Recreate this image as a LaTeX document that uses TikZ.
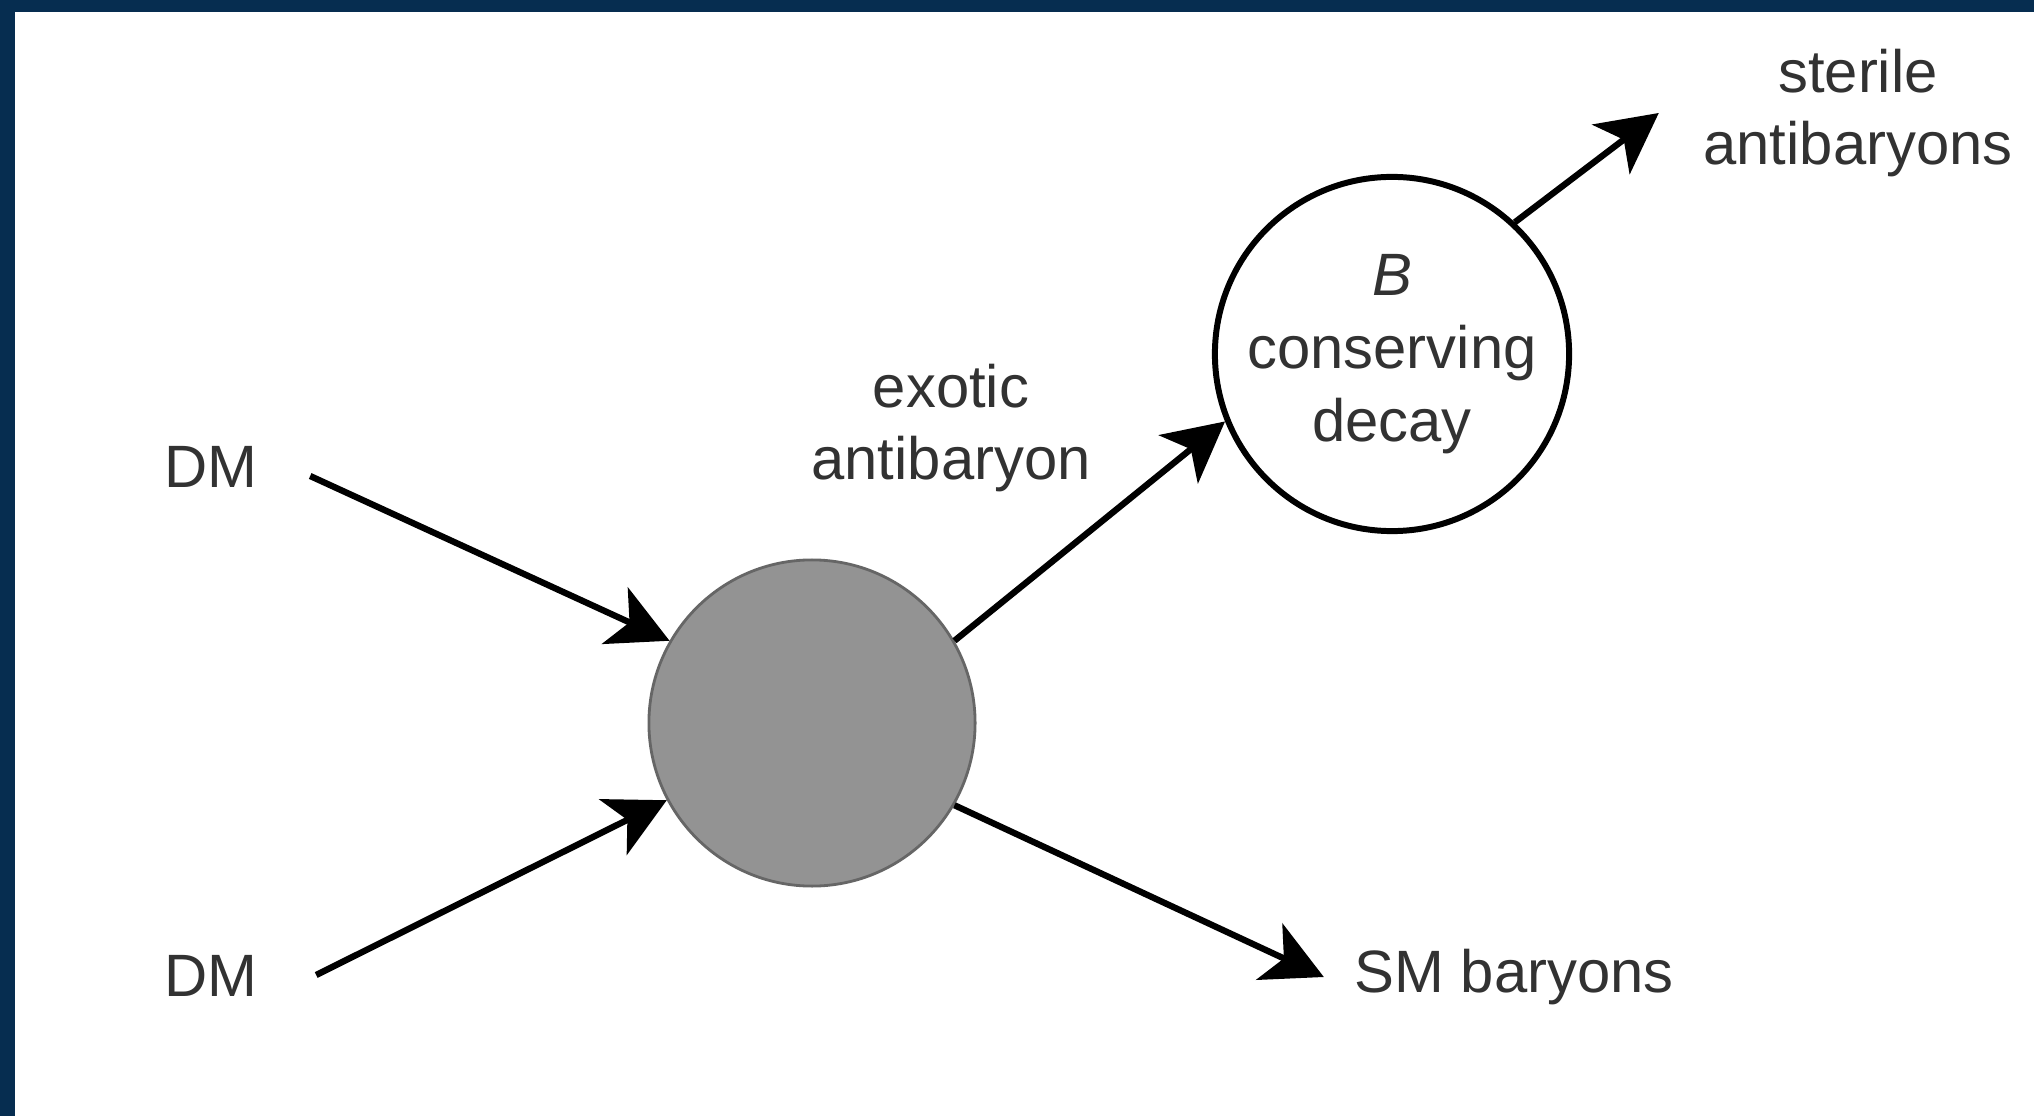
\documentclass[tikz,border=0pt]{standalone}
\usepackage{fontspec}
\setmainfont{Liberation Sans}
\usepackage{xcolor}
\usetikzlibrary{arrows.meta,positioning}
\definecolor{navy}{RGB}{6,45,80}
\definecolor{blobgray}{RGB}{147,147,147}
\definecolor{txtgray}{RGB}{50,50,50}

\begin{document}
\begin{tikzpicture}[
    x=0.01cm, y=-0.01cm,
    lbl/.style={text=txtgray, align=center, inner sep=0pt,
                font=\fontsize{17pt}{20.7pt}\selectfont},
    blob/.style={circle, fill=blobgray, draw=black!60, line width=0.8pt,
                 minimum size=3.26cm},
    vertex/.style={lbl, circle, draw=black, line width=1.7pt,
                   minimum size=3.54cm},
    arrow/.style={-{Stealth[length=6mm, width=6.2mm, inset=1.6mm]}, line width=1.8pt}
]
% frame
\fill[navy] (0,0) rectangle (2034,1116);
\fill[white] (15,12) rectangle (2034,1116);
\useasboundingbox (0,0) rectangle (2034,1116);

\node[lbl] (dmA) at (211,467) {DM};
\node[lbl] (dmB) at (211,976) {DM};
\node[blob] (blob) at (812,723) {};
\node[vertex] (decay) at (1392,354) {\textit{B}\\conserving\\decay};
\node[lbl] (exotic) at (951,428) {exotic\\antibaryon};
\node[lbl] (sterile) at (1858,113) {sterile\\antibaryons};
\node[lbl] (sm) at (1514,977) {SM baryons};

\draw[arrow] ([shift={(52,9)}]dmA.east) -- (blob.150);
\draw[arrow] ([shift={(58,-1)}]dmB.east) -- (blob.208);
\draw[arrow] (blob.30) -- (decay.202);
\draw[arrow] (decay.47) -- ([shift={(-44,0)}]sterile.west);
\draw[arrow] (blob.-30) -- ([shift={(-30,0)}]sm.west);
\end{tikzpicture}
\end{document}
